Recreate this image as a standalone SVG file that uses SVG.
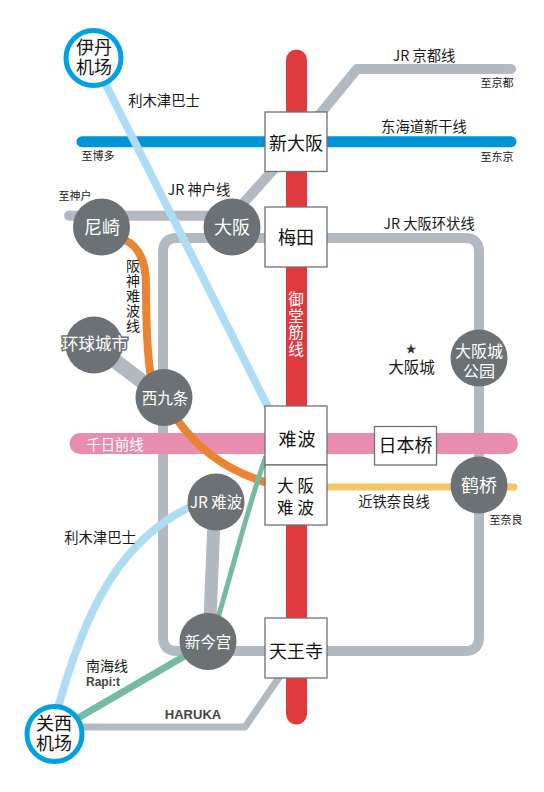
<svg xmlns="http://www.w3.org/2000/svg" width="544" height="792" viewBox="0 0 544 792">
<style>
text{font-family:"Noto Sans CJK SC","Noto Sans",sans-serif;text-anchor:middle;fill:#1a1a1a}
.l{fill:none;stroke-linecap:round;stroke-linejoin:round}
.g{stroke:#b3b9c1;stroke-width:10}
.lb{stroke:#aedcf3;stroke-width:8;stroke-linecap:butt}
.or{stroke:#e98433;stroke-width:8;stroke-linecap:butt}
.gr{stroke:#74bba1;stroke-linecap:butt}
.st circle{fill:#6b7174}
.st text{fill:#fff;font-size:18px}
.air circle{fill:#fff;stroke:#00a0e3;stroke-width:5}
.air text{font-size:18px;fill:#111}
.box rect{fill:#fff;stroke:#6d7074;stroke-width:1.3}
.box text{font-size:18px;fill:#111}
.s{font-size:11px}
.m{font-size:14.300px}
.v{font-size:14px}
.w{fill:#fff;font-size:15.500px}
.b{font-family:"Liberation Sans",sans-serif;font-weight:bold;fill:#444}
</style>
<g id="connectors">
<path id="midosuji" class="l" d="M296.500 60V714" stroke="#e03a3e" stroke-width="21"/>
<path id="kyoto" class="l g" d="M311 125L357 69H511"/>
<path id="shinkansen" class="l" d="M82 141.700H511" stroke="#0093d8" stroke-width="11"/>
<path id="kobe" class="l g" d="M69 215.700H232L275 168"/>
<path id="loop" class="l g" d="M296 238H465Q479 238 479 252V637Q479 651 465 651H177Q163 651 163 637V252Q163 238 177 238H296"/>
<path id="sennichimae" class="l" d="M80 443.500H507.500" stroke="#e88db0" stroke-width="21"/>
<path id="kintetsu" class="l" d="M327 487H514" stroke="#f6c463" stroke-width="7"/>
<path id="itami-bus" class="l lb" d="M105 83L270 411"/>
<path id="kix-bus" class="l lb" d="M58 708C85 610 120 540 192 506"/>
<path id="hanshin" class="l or" d="M125 240C140 247 146 262 146 285C146 325 147 350 150.500 375"/>
<path id="hanshin2" class="l or" d="M176 418C198 450 230 472 268 483"/>
<path id="yumesaki" class="l" d="M94 345L164 398" stroke="#b3b9c1" stroke-width="15"/>
<path id="namba-imamiya" class="l" d="M214 520L210 620" stroke="#b3b9c1" stroke-width="13" style="stroke-linecap:butt"/>
<path id="nankai" class="l gr" d="M78 718L195 650" stroke-width="7"/>
<path id="nankai2" class="l gr" d="M218 618C235 560 250 500 266 456" stroke-width="5"/>
<path id="haruka" class="l" d="M80 727H245L280 676" stroke="#b3b9c1" stroke-width="7" style="stroke-linecap:butt"/>
</g>
<g id="labels">
<text class="m" x="164" y="106">利木津巴士</text>
<text class="s" x="98" y="160">至博多</text>
<text class="s" x="75" y="200">至神户</text>
<text class="m" x="199" y="195">JR 神户线</text>
<text class="m" x="424" y="61">JR 京都线</text>
<text class="s" x="497" y="87">至京都</text>
<text class="m" x="424" y="132">东海道新干线</text>
<text class="s" x="497" y="161">至东京</text>
<text class="m" x="429" y="229">JR 大阪环状线</text>
<text class="v" x="133" y="271">阪</text><text class="v" x="133" y="286">神</text><text class="v" x="133" y="301">难</text><text class="v" x="133" y="316">波</text><text class="v" x="133" y="331">线</text>
<text class="w" x="296" y="305">御</text><text class="w" x="296" y="321.500">堂</text><text class="w" x="296" y="338">筋</text><text class="w" x="296" y="354.500">线</text>
<text style="font-size:11px;fill:#333" x="411" y="353">★</text>
<text style="font-size:15.500px" x="411.500" y="373">大阪城</text>
<text style="fill:#fff;font-size:14.300px" x="115" y="450">千日前线</text>
<text class="m" x="394" y="507">近铁奈良线</text>
<text class="s" x="506" y="524">至奈良</text>
<text class="m" x="100" y="543">利木津巴士</text>
<text style="font-size:14px" x="107" y="671">南海线</text>
<text class="b" style="font-size:12px" x="103" y="686">Rapi:t</text>
<text class="b" style="font-size:13px" x="193" y="719">HARUKA</text>
</g>
<g id="itami" class="air"><circle cx="93.500" cy="58" r="27.500"/><text x="94" y="54">伊丹</text><text x="94" y="74">机场</text></g>
<g id="kix" class="air"><circle cx="54.500" cy="734" r="27.500"/><text x="54" y="730">关西</text><text x="54" y="750">机场</text></g>
<g id="amagasaki" class="st"><circle cx="101.500" cy="227" r="28.500"/><text x="102" y="234">尼崎</text></g>
<g id="osaka" class="st"><circle cx="232" cy="227" r="28.500"/><text x="232" y="234">大阪</text></g>
<g id="usj" class="st"><circle cx="94" cy="345" r="28.500"/><text x="95" y="350" style="font-size:16.500px;paint-order:stroke;stroke:#6b7174;stroke-width:3">环球城市</text></g>
<g id="nishikujo" class="st"><circle cx="164" cy="397.500" r="28.500"/><text x="165" y="403.500" style="font-size:15.500px">西九条</text></g>
<g id="jrnamba" class="st"><circle cx="216" cy="502" r="28.500"/><text x="216" y="508" style="font-size:15.500px">JR 难波</text></g>
<g id="imamiya" class="st"><circle cx="208" cy="641.500" r="28.500"/><text x="208" y="648" style="font-size:15.500px">新今宫</text></g>
<g id="osakajo" class="st"><circle cx="479" cy="358" r="28.500"/><text x="479" y="357" style="font-size:16px">大阪城</text><text x="479" y="377" style="font-size:16px">公园</text></g>
<g id="tsuruhashi" class="st"><circle cx="479" cy="485" r="28.500"/><text x="479" y="491.500">鹤桥</text></g>
<g id="shinosaka" class="box"><rect x="265" y="112" width="62" height="59.500"/><text x="296" y="150">新大阪</text></g>
<g id="umeda" class="box"><rect x="265" y="207" width="62" height="60"/><text x="296" y="243.500">梅田</text></g>
<g id="namba" class="box"><rect x="265" y="406" width="62" height="59"/><text x="297.500" y="445.500" style="letter-spacing:1px">难波</text></g>
<g id="osakanamba" class="box"><rect x="265" y="465" width="62" height="60"/><text x="297.500" y="491.500" style="font-size:16.500px;letter-spacing:4px">大阪</text><text x="297.500" y="513.500" style="font-size:16.500px;letter-spacing:4px">难波</text></g>
<g id="nihonbashi" class="box"><rect x="374.500" y="426.500" width="62" height="38.500"/><text x="405.500" y="452">日本桥</text></g>
<g id="tennoji" class="box"><rect x="265" y="618" width="62" height="60"/><text x="296" y="657.500">天王寺</text></g>
</svg>
